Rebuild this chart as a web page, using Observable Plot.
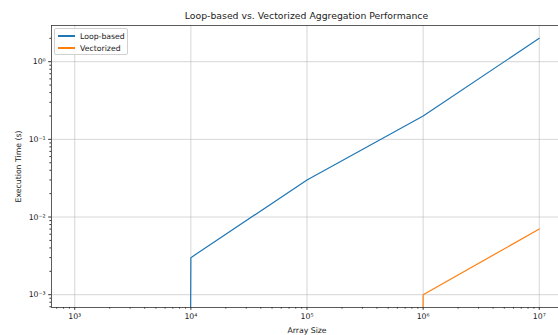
<!DOCTYPE html>
<html>
<head>
<meta charset="utf-8">
<script src="https://cdn.jsdelivr.net/npm/d3@7"></script>
<script src="https://cdn.jsdelivr.net/npm/@observablehq/plot@0.6"></script>
<style>
  body { margin: 0; background: #fff; font-family: "DejaVu Sans", sans-serif; }
  #wrap { position: relative; width: 558px; height: 335px; overflow: hidden; background: #fff; }
  #title { position: absolute; top: 10px; left: 0; width: 613px; text-align: center; font-size: 9.3px; color: #222; white-space: nowrap; }
  #legend { position: absolute; left: 54px; top: 28px; width: 72px; height: 25px; border: 1px solid #d0d0d0; border-radius: 2px; background: rgba(255,255,255,0.8); font-size: 7.75px; color: #222; }
  .row { position: absolute; left: 0; height: 10px; display: flex; align-items: center; }
  .sw { width: 17px; height: 1.2px; margin-left: 3px; margin-right: 5px; }
</style>
</head>
<body>
<div id="wrap">
  <div id="chart"></div>
  <div id="title"></div>
  <div id="legend"></div>
</div>
<script>
const titleText = "Loop-based vs. Vectorized Aggregation Performance";
const xLabel = "Array Size";
const yLabel = "Execution Time (s)";
const seriesNames = ["Loop-based", "Vectorized"];
const seriesColors = ["#1f77b4", "#ff7f0e"];
const sizes = [1e3, 1e4, 1e5, 1e6, 1e7];
const loopTimes = [0, 0.003, 0.03, 0.2, 2.0];
const vecTimes = [0, 0, 0, 0.001, 0.007];
const xTicks = [1e3, 1e4, 1e5, 1e6, 1e7];
const xTickLabels = ["10³", "10⁴", "10⁵", "10⁶", "10⁷"];
const yTicks = [1e-3, 1e-2, 1e-1, 1e0];
const yTickLabels = ["10⁻³", "10⁻²", "10⁻¹", "10⁰"];

const data = [];
sizes.forEach((s, i) => data.push({size: s, time: loopTimes[i], series: seriesNames[0]}));
sizes.forEach((s, i) => data.push({size: s, time: vecTimes[i], series: seriesNames[1]}));

// matplotlib-like log autoscale with 5% margins
function logDomain(vals) {
  const pos = vals.filter(v => v > 0);
  const lo = Math.log10(d3.min(pos)), hi = Math.log10(d3.max(pos));
  const pad = 0.05 * (hi - lo);
  return [Math.pow(10, lo - pad), Math.pow(10, hi + pad)];
}
const xDom = logDomain(sizes);
const yDom = logDomain(loopTimes.concat(vecTimes));

function minorTicks(dom) {
  const out = [];
  for (let k = Math.floor(Math.log10(dom[0])) ; k <= Math.ceil(Math.log10(dom[1])); k++) {
    for (let m = 2; m <= 9; m++) {
      const v = m * Math.pow(10, k);
      if (v >= dom[0] && v <= dom[1]) out.push(v);
    }
  }
  return out;
}
const xMinor = minorTicks(xDom);
const yMinor = minorTicks(yDom);

const fmt = (ticks, labels) => v => labels[ticks.findIndex(t => Math.abs(t - v) / t < 1e-9)];

const chart = Plot.plot({
  width: 558,
  height: 335,
  marginLeft: 51,
  marginRight: -4,
  marginTop: 25,
  marginBottom: 28,
  style: {fontFamily: "DejaVu Sans, sans-serif", fontSize: "7.75px", color: "#222", background: "#fff", overflow: "visible"},
  x: {type: "log", domain: xDom},
  y: {type: "log", domain: yDom},
  color: {domain: seriesNames, range: seriesColors},
  marks: [
    Plot.gridX(xTicks, {stroke: "#b0b0b0", strokeOpacity: 0.65, strokeWidth: 0.8}),
    Plot.gridY(yTicks, {stroke: "#b0b0b0", strokeOpacity: 0.65, strokeWidth: 0.8}),
    Plot.line(data, {
      x: "size",
      y: d => d.time > 0 ? d.time : 1e-300,
      z: "series",
      stroke: "series",
      strokeWidth: 1.2,
      clip: true
    }),
    Plot.frame({stroke: "#333", strokeWidth: 0.8}),
    Plot.axisX({ticks: xMinor, tickSize: 1.6, tickFormat: () => "", label: null, stroke: "#333"}),
    Plot.axisY({ticks: yMinor, tickSize: 1.6, tickFormat: () => "", label: null, stroke: "#333"}),
    Plot.axisX({ticks: xTicks, tickSize: 2.8, tickPadding: 3, tickFormat: fmt(xTicks, xTickLabels),
      label: xLabel, labelAnchor: "center", labelArrow: "none", labelOffset: 25, stroke: "#333"}),
    Plot.axisY({ticks: yTicks, tickSize: 2.8, tickPadding: 3, tickFormat: fmt(yTicks, yTickLabels),
      label: yLabel, labelAnchor: "center", labelArrow: "none", labelOffset: 36, stroke: "#333"})
  ]
});
document.getElementById("chart").appendChild(chart);
document.getElementById("title").textContent = titleText;

const legend = document.getElementById("legend");
seriesNames.forEach((name, i) => {
  const row = document.createElement("div");
  row.className = "row";
  row.style.top = (2 + i * 12) + "px";
  const sw = document.createElement("div");
  sw.className = "sw";
  sw.style.background = seriesColors[i];
  const t = document.createElement("span");
  t.textContent = name;
  row.appendChild(sw);
  row.appendChild(t);
  legend.appendChild(row);
});
</script>
</body>
</html>
